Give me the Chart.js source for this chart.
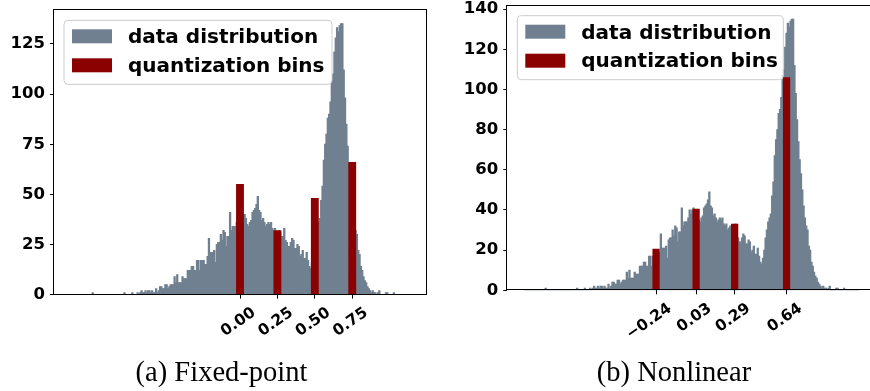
<!DOCTYPE html>
<html><head><meta charset="utf-8">
<script src="https://cdn.jsdelivr.net/npm/chart.js@4.4.1/dist/chart.umd.min.js"></script>
<style>
html,body{margin:0;padding:0;background:#fff;width:870px;height:391px;overflow:hidden;position:relative}
canvas{position:absolute;top:0}
#c1{left:0}
#c2{left:435px}
.cap{position:absolute;font-family:"Liberation Serif","Times New Roman",serif;font-size:28.5px;line-height:1;color:#000;white-space:nowrap;transform:translateX(-50%)}
</style></head><body>
<canvas id="c1" width="435" height="391"></canvas>
<canvas id="c2" width="445" height="391"></canvas>
<div class="cap" id="cap1" style="left:221.5px;top:358px"></div>
<div class="cap" id="cap2" style="left:674px;top:358px"></div>
<script>
// ---- data (histogram of the same tensor in both panels) ----
const binStart = -1.13;
const binEnd = 1.13;
const counts = [
  0,0,0,0,0,0,0,0,0,0,0,0,0,0,0,0,
  1,0,0,0,0,0,0,0,0,0,0,0,0,0,0,0,
  0,0,0,0,0,0,0,0,1,0,0,0,0,0,1,0,
  0,0,1,0,1,2,1,1,2,1,2,2,1,2,1,1,
  3,1,2,4,4,3,3,5,5,3,4,5,5,5,9,6,
  10,6,6,6,9,8,8,8,12,12,12,14,14,12,12,17,
  17,12,17,17,17,15,15,19,28,21,21,21,22,16,25,26,
  26,30,27,32,31,24,29,29,41,32,34,34,34,36,40,38,
  40,41,40,40,38,35,34,36,37,41,42,43,45,49,42,41,
  37,38,36,34,35,36,35,36,33,32,33,30,31,32,31,29,
  29,33,27,26,24,24,26,28,27,23,23,25,24,19,20,22,
  18,18,21,17,14,13,16,20,26,30,34,36,38,47,54,67,
  75,80,88,90,96,107,110,121,128,133,131,134,135,135,112,98,
  85,74,65,58,50,42,36,32,30,22,20,14,12,9,7,6,
  4,3,2,1,2,1,1,0,1,2,0,0,0,0,1,1,
  0,0,0,0,1,0,0,0,0,0,0,0,0,0,0,0
];
const seriesNames = ['data distribution', 'quantization bins'];
const fixedBinCenters = [0.00, 0.25, 0.50, 0.75];
const fixedBinHeights = [55, 32, 48, 66];
const nonlinBinCenters = [-0.24, 0.03, 0.29, 0.64];
const nonlinBinHeights = [20.5, 40.5, 33, 106];
const leftYTicks = [0, 25, 50, 75, 100, 125];
const rightYTicks = [0, 20, 40, 60, 80, 100, 120, 140];
const captions = ['(a) Fixed-point', '(b) Nonlinear'];

// ---- derived ----
const binW = (binEnd - binStart) / counts.length;
const histPoints = counts.map((c, i) => ({ x: binStart + (i + 0.5) * binW, y: c }));
const xMin = binStart - 0.05 * (binEnd - binStart);
const xMax = binEnd + 0.05 * (binEnd - binStart);
const yMax = Math.max(...counts) * 1.05;
const fmt = v => (v < 0 ? '\u2212' : '') + Math.abs(v).toFixed(2);

const FONT = '"DejaVu Sans", sans-serif';

const framePlugin = {
  id: 'frame',
  afterDatasetsDraw(chart) {
    const { ctx, chartArea: a } = chart;
    ctx.save();
    ctx.strokeStyle = '#000';
    ctx.lineWidth = 1;
    const l = Math.round(a.left) - 0.5, t = Math.round(a.top) - 0.5;
    const r = Math.round(a.right) + 0.5, b = Math.round(a.bottom) - 0.5;
    ctx.strokeRect(l, t, r - l, b - t);
    ctx.restore();
  }
};

const boxLegend = {
  id: 'boxLegend',
  afterDatasetsDraw(chart, args, o) {
    const { ctx, chartArea: a } = chart;
    const x = a.left + o.dx, y = a.top + o.dy, w = o.w, h = o.h, r = 4;
    ctx.save();
    ctx.beginPath();
    ctx.moveTo(x + r, y);
    ctx.arcTo(x + w, y, x + w, y + h, r);
    ctx.arcTo(x + w, y + h, x, y + h, r);
    ctx.arcTo(x, y + h, x, y, r);
    ctx.arcTo(x, y, x + w, y, r);
    ctx.closePath();
    ctx.fillStyle = 'rgba(255,255,255,0.8)';
    ctx.fill();
    ctx.strokeStyle = '#cccccc';
    ctx.lineWidth = 1;
    ctx.stroke();
    ctx.font = 'bold 20px ' + FONT;
    ctx.textBaseline = 'alphabetic';
    ctx.textAlign = 'left';
    chart.data.datasets.forEach((ds, i) => {
      ctx.fillStyle = ds.backgroundColor;
      ctx.fillRect(x + 8, y + 9 + i * 29, 40, 14);
      ctx.fillStyle = '#000';
      ctx.fillText(ds.label, x + 64, y + 23 + i * 28.5);
    });
    ctx.restore();
  }
};

function makeChart(id, centers, heights, yTicks, geo) {
  const reds = centers.map((c, i) => ({ x: c, y: heights[i] }));
  const tickFont = { family: FONT, weight: 'bold' };
  return new Chart(document.getElementById(id), {
    type: 'bar',
    data: {
      datasets: [
        { label: seriesNames[0], data: histPoints, backgroundColor: '#708090',
          barThickness: 'flex', categoryPercentage: 1, barPercentage: 1,
          inflateAmount: 0.5, grouped: true, order: 2 },
        { label: seriesNames[1], data: reds, backgroundColor: '#8b0000',
          barThickness: geo.redW, grouped: false, order: 1 }
      ]
    },
    options: {
      responsive: false, animation: false, events: [],
      layout: { padding: { left: 0, top: geo.top, right: geo.right, bottom: 0 } },
      plugins: { legend: { display: false }, tooltip: { enabled: false }, title: { display: false },
        boxLegend: { dx: 10, dy: 10, w: geo.lw, h: 64 } },
      scales: {
        x: {
          type: 'linear', min: xMin, max: xMax, offset: false,
          afterBuildTicks: s => { s.ticks = centers.map(v => ({ value: v })); },
          afterFit: s => { s.height = geo.xH; s.paddingLeft = 0; s.paddingRight = 0; },
          ticks: { autoSkip: false, minRotation: 35, maxRotation: 35, labelOffset: 14, padding: 5,
            color: '#000', font: Object.assign({ size: 15.5 }, tickFont), callback: v => fmt(v) },
          grid: { display: true, offset: false, drawOnChartArea: false, drawTicks: true,
            tickLength: 4, tickColor: '#000' },
          border: { display: false }
        },
        y: {
          min: 0, max: yMax,
          afterBuildTicks: s => { s.ticks = yTicks.map(v => ({ value: v })); },
          afterFit: s => { s.width = geo.yW; s.paddingTop = 0; s.paddingBottom = 0; },
          ticks: { padding: 5, color: '#000', font: Object.assign({ size: 16.5 }, tickFont) },
          grid: { display: true, drawOnChartArea: false, drawTicks: true, tickLength: 4, tickColor: '#000' },
          border: { display: false }
        }
      }
    },
    plugins: [framePlugin, boxLegend]
  });
}

makeChart('c1', fixedBinCenters, fixedBinHeights, leftYTicks,
  { top: 10.3, right: 9, yW: 54, xH: 96.3, redW: 7.2, lw: 268 });
makeChart('c2', nonlinBinCenters, nonlinBinHeights, rightYTicks,
  { top: 5.7, right: 4, yW: 72.3, xH: 100.7, redW: 6.6, lw: 266 });

document.getElementById('cap1').textContent = captions[0];
document.getElementById('cap2').textContent = captions[1];
</script>
</body></html>
